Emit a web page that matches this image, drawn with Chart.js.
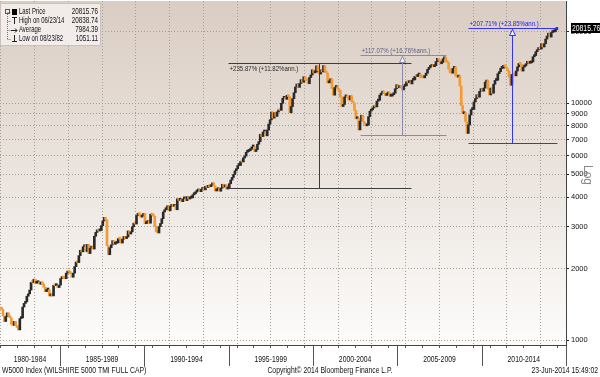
<!DOCTYPE html>
<html><head><meta charset="utf-8">
<script src="https://cdn.jsdelivr.net/npm/chart.js@4.4.1/dist/chart.umd.min.js"></script>
<style>html,body{margin:0;padding:0;background:#fff}#wrap{width:600px;height:377px;position:relative}</style>
</head><body><div id="wrap"><canvas id="c" width="600" height="377"></canvas></div>
<script>
// Monthly closes of W5000 (first value = May 1981 close, used as the open of the first bar)
const p1980_1984 = [1366,1351,1348,1265,1197,1255,1301,1262,
  1240,1165,1153,1199,1152,1129,1103,1231,1240,1377,1427,1449,
  1530,1565,1625,1750,1745,1805,1735,1745,1760,1720,1755,1725,
  1670,1600,1625,1630,1535,1560,1535,1700,1695,1695,1665,1705];
const p1985_1989 = [1815,1830,1825,1815,1915,1940,1930,1905,1840,1915,2040,2135,
  2120,2270,2390,2355,2475,2510,2360,2530,2315,2440,2490,2420,
  2740,2845,2915,2885,2900,3035,3180,3290,3215,2500,2290,2450,
  2520,2625,2535,2560,2570,2680,2665,2565,2665,2735,2680,2720,
  2885,2800,2860,3005,3110,3085,3355,3410,3385,3300,3355,3420];
const p1990_1994 = [3095,3120,3195,3110,3395,3365,3330,3020,2860,2830,3010,3100,
  3250,3470,3545,3545,3685,3510,3665,3735,3665,3710,3545,3945,
  3885,3920,3835,3940,3945,3875,4030,3935,3970,3980,4100,4140,
  4210,4255,4335,4225,4320,4325,4300,4450,4405,4490,4435,4480,
  4600,4460,4255,4305,4360,4245,4375,4540,4420,4510,4335,4385];
const p1995_1999 = [4565,4730,4855,4995,5175,5285,5450,5450,5670,5640,5870,5975,
  6200,6245,6295,6380,6525,6540,6240,6355,6700,6875,7380,7220,
  7545,7590,7270,7695,8145,8495,9160,8635,9095,8780,9170,9315,
  9310,9970,10465,10560,10365,10770,10645,9095,9660,10435,11055,11680,
  12030,11640,12090,12550,12240,12905,12490,12410,12060,12810,13130,13810];
const p2000_2004 = [13400,13500,14350,13700,13250,13800,13520,14380,13600,13380,12160,12180,
  12650,11500,10790,11620,11700,11450,11300,10600,9660,9860,10610,10710,
  10520,10300,10730,10120,10010,9310,8580,8630,7700,8380,8880,8340,
  8140,8010,8080,8760,9240,9360,9540,9740,9630,10180,10270,10800,
  11010,11150,11000,10760,10900,11120,10680,10700,10840,11000,11480,11950];
const p2005_2009 = [11600,11840,11620,11360,11770,11810,12300,12180,12280,12040,12490,12520,
  12970,12940,13120,13250,12790,12780,12770,13070,13370,13860,14120,14260,
  14520,14230,14370,14950,15430,15150,14640,14830,15360,15610,14920,14820,
  13920,13450,13360,14000,14200,13000,12860,13030,11800,9750,9010,9090,
  8350,7440,8080,8900,9380,9390,10100,10440,10830,10580,11190,11500];
const p2010_2014 = [11220,11560,12250,12490,11460,10820,11560,11000,12000,12450,12470,13290,
  13560,14000,14030,14420,14230,13970,13640,12850,11880,13200,13130,13020,
  13650,14210,14680,14560,13640,14180,14340,14630,15000,14710,14770,14900,
  15670,15860,16460,16770,17150,16890,17770,17230,17790,18610,19160,19710,
  18970,19830,19950,19980,20420,20816];

const yTicks = [1000,2000,3000,4000,5000,6000,7000,8000,9000,10000,20000];
const periodLabels = ['1980-1984','1985-1989','1990-1994','1995-1999','2000-2004','2005-2009','2010-2014'];
const periodStarts = [1980,1985,1990,1995,2000,2005,2010];
const legendLabels = ['Last Price','High on 06/23/14','Average','Low on 08/23/82'];
const legendValues = ['20815.76','20838.74','7984.39','1051.11'];
const lastPrice = 20815.76;

// Performance annotations: label, start/end date, low/high value, date of the measuring line
const moveLabels = ['+235.87% (+11.82%ann.)','+117.07% (+16.76%ann.)','+207.71% (+23.85%ann.)'];
const moveFrom = [1994.96, 2002.78, 2009.17];
const moveTo = [2005.80, 2007.90, 2014.45];
const moveLow = [4392, 7342, 6765];
const moveHigh = [14751, 15937, 20816];
const moveAt = [2000.35, 2005.26, 2011.78];

const footLeft = 'W5000 Index (WILSHIRE 5000 TMI FULL CAP)';
const footMid = 'Copyright\u00A9 2014 Bloomberg Finance L.P.';
const footRight = '23-Jun-2014 15:49:02';

// ---- build bars
const series = [p1980_1984,p1985_1989,p1990_1994,p1995_1999,p2000_2004,p2005_2009,p2010_2014].flat();
const bars = [], barColors = [];
let yr = 1981, mo = 5;
for (let i = 1; i < series.length; i++) {
  mo++; if (mo > 12) { mo = 1; yr++; }
  const o = series[i-1], c = series[i];
  bars.push({x: yr + (mo - 0.5) / 12, y: [o, c]});
  barColors.push(c >= o ? '#2a2a2a' : '#f39a32');
}
const years = []; for (let y = 1982; y <= 2014; y++) years.push(y);

const FONT = '"Liberation Sans",Arial,sans-serif';
const X_MIN = 1981.45, X_MAX = 2015.0;

function stext(ctx, t, x, y, align, sq) {
  sq = sq || 0.8; // horizontal squeeze to mimic the narrow terminal font
  const w = ctx.measureText(t).width * sq;
  const x0 = align === 'left' ? x : align === 'right' ? x - w : x - w / 2;
  ctx.save(); ctx.translate(x0, y); ctx.scale(sq, 1); ctx.textAlign = 'left'; ctx.fillText(t, 0, 0); ctx.restore();
}

const bgPlugin = {
  id: 'bg',
  beforeDraw(chart) {
    const {ctx, chartArea: a} = chart;
    ctx.save();
    ctx.fillStyle = '#fff'; ctx.fillRect(0, 0, chart.width, chart.height);
    const g = ctx.createLinearGradient(0, a.top, 0, a.bottom);
    g.addColorStop(0, '#dacdc3'); g.addColorStop(0.5, '#ebe4de'); g.addColorStop(1, '#fdfcfb');
    ctx.fillStyle = g; ctx.fillRect(a.left, a.top, a.right - a.left, a.bottom - a.top);
    ctx.restore();
  }
};

const moveStyles = [
  {color: '#3c3c3c', text: '#2a2a2a', below: true, arrow: false},
  {color: '#8a8aa6', text: '#5d5d80', below: false, arrow: true},
  {color: '#3434f4', text: '#2020ee', below: false, arrow: true}
];

const overlayPlugin = {
  id: 'overlay',
  afterDraw(chart) {
    const {ctx, chartArea: a} = chart;
    const xs = chart.scales.x, ys = chart.scales.y;
    ctx.save();
    // annotations
    moveLabels.forEach((lab, i) => {
      const st = moveStyles[i];
      const x1 = Math.round(xs.getPixelForValue(moveFrom[i])) + 0.5;
      const x2 = Math.round(xs.getPixelForValue(moveTo[i])) + 0.5;
      const xm = Math.round(xs.getPixelForValue(moveAt[i])) + 0.5;
      const yh = Math.round(ys.getPixelForValue(moveHigh[i])) + 0.5;
      const yl = Math.round(ys.getPixelForValue(moveLow[i])) + 0.5;
      ctx.strokeStyle = st.color; ctx.lineWidth = 1;
      ctx.beginPath();
      ctx.moveTo(x1, yh); ctx.lineTo(x2, yh);
      ctx.moveTo(x1, yl); ctx.lineTo(x2, yl);
      ctx.moveTo(xm, yh); ctx.lineTo(xm, yl);
      ctx.stroke();
      if (st.arrow) {
        ctx.beginPath();
        ctx.moveTo(xm, yh + 1); ctx.lineTo(xm - 3, yh + 7); ctx.lineTo(xm + 3, yh + 7); ctx.closePath();
        ctx.fillStyle = '#f4f0ee'; ctx.fill(); ctx.stroke();
      }
      ctx.fillStyle = st.text;
      ctx.font = '8px ' + FONT;
      ctx.textBaseline = st.below ? 'top' : 'bottom';
      stext(ctx, lab, x1 + 1, st.below ? yh + 1 : yh - 1, 'left', 0.76);
    });

    // legend box
    ctx.fillStyle = 'rgba(244,240,237,0.9)';
    ctx.fillRect(0, 3, 100, 42);
    ctx.strokeStyle = '#c9c1bb'; ctx.lineWidth = 1;
    ctx.strokeRect(0.5, 3.5, 100, 42);
    const rows = [12, 21, 30, 39];
    ctx.strokeStyle = '#777';
    ctx.setLineDash([1, 1]);
    ctx.beginPath(); ctx.moveTo(7.5, 14); ctx.lineTo(7.5, 39);
    rows.forEach(r => { ctx.moveTo(7.5, r + 0.5); ctx.lineTo(11, r + 0.5); });
    ctx.stroke(); ctx.setLineDash([]);
    ctx.strokeStyle = '#555'; ctx.strokeRect(5.5, 9.5, 4, 4);
    ctx.fillStyle = '#000';
    ctx.fillRect(12, 9, 5, 6);
    ctx.strokeStyle = '#222';
    ctx.beginPath();
    ctx.moveTo(12, 17.5); ctx.lineTo(17, 17.5); ctx.moveTo(14.5, 17); ctx.lineTo(14.5, 24);
    ctx.moveTo(11, 30.5); ctx.lineTo(17, 30.5); ctx.moveTo(15, 28.5); ctx.lineTo(17, 30.5); ctx.lineTo(15, 32.5);
    ctx.moveTo(14.5, 35); ctx.lineTo(14.5, 42); ctx.moveTo(12, 41.5); ctx.lineTo(17, 41.5);
    ctx.stroke();
    ctx.font = '8.5px ' + FONT;
    ctx.fillStyle = '#111';
    ctx.textBaseline = 'middle';
    legendLabels.forEach((t, i) => { stext(ctx, t, 19, rows[i], 'left', 0.7); stext(ctx, legendValues[i], 98, rows[i], 'right', 0.74); });

    // footer: period separators and labels
    ctx.strokeStyle = '#555'; ctx.lineWidth = 1;
    ctx.beginPath();
    periodStarts.forEach(s => {
      if (s > X_MIN) { const x = Math.round(xs.getPixelForValue(s)) + 0.5; ctx.moveTo(x, a.bottom); ctx.lineTo(x, a.bottom + 21); }
    });
    ctx.moveTo(a.right + 0.5, a.bottom); ctx.lineTo(a.right + 0.5, a.bottom + 21);
    ctx.stroke();
    ctx.fillStyle = '#111'; ctx.font = '8.5px ' + FONT; ctx.textBaseline = 'middle';
    periodLabels.forEach((t, i) => {
      const s = Math.max(periodStarts[i], X_MIN), e = Math.min(periodStarts[i] + 5, X_MAX);
      stext(ctx, t, (xs.getPixelForValue(s) + xs.getPixelForValue(e)) / 2, a.bottom + 15, 'center');
    });
    stext(ctx, footLeft, 2, 371, 'left');
    stext(ctx, footMid, 330, 371, 'center');
    stext(ctx, footRight, 598, 371, 'right');

    // Log label
    ctx.save();
    ctx.translate(587, 175); ctx.rotate(Math.PI / 2);
    ctx.fillStyle = '#8a8a8a'; ctx.font = '12px ' + FONT; ctx.textAlign = 'center'; ctx.textBaseline = 'middle';
    ctx.fillText('Log', 0, 0);
    ctx.restore();

    // last price tag
    const yp = Math.round(ys.getPixelForValue(lastPrice));
    ctx.fillStyle = '#000';
    ctx.fillRect(a.right + 5, yp - 5, 600 - a.right - 5, 10);
    ctx.fillStyle = '#fff'; ctx.font = '8.5px ' + FONT; ctx.textBaseline = 'middle';
    stext(ctx, lastPrice.toFixed(2), a.right + 6, yp + 0.5, 'left');
    ctx.restore();
  }
};

new Chart(document.getElementById('c'), {
  type: 'bar',
  data: {datasets: [{data: bars, backgroundColor: barColors, barThickness: 2, minBarLength: 2, borderWidth: 0}]},
  options: {
    animation: false, responsive: false, maintainAspectRatio: false,
    layout: {padding: {top: 1, left: 0, right: 0, bottom: 0}},
    plugins: {legend: {display: false}, tooltip: {enabled: false}},
    scales: {
      x: {
        type: 'linear', min: X_MIN, max: X_MAX, offset: false,
        afterBuildTicks: s => { s.ticks = years.map(v => ({value: v})); },
        afterFit: s => { s.height = 32; s.paddingLeft = 0; s.paddingRight = 0; },
        ticks: {display: false},
        grid: {color: c => (c.tick && c.tick.value % 2 === 0) ? '#a49e99' : 'rgba(0,0,0,0)', drawTicks: true, tickLength: 3, tickColor: '#555', tickBorderDash: []},
        border: {display: true, color: '#444', width: 1, dash: [1, 2]}
      },
      y: {
        type: 'logarithmic', position: 'right', min: 952.6, max: 26940,
        afterBuildTicks: s => { s.ticks = yTicks.map(v => ({value: v})); },
        afterFit: s => { s.width = 34; s.paddingTop = 0; s.paddingBottom = 0; },
        ticks: {color: '#111', font: {family: FONT, size: 7.5}, padding: 2, autoSkip: false, callback: v => String(v)},
        grid: {color: '#a49e99', drawTicks: true, tickLength: 3, tickColor: '#222', tickBorderDash: []},
        border: {display: true, color: '#444', width: 1, dash: [1, 2]}
      }
    }
  },
  plugins: [bgPlugin, overlayPlugin]
});
</script></body></html>
